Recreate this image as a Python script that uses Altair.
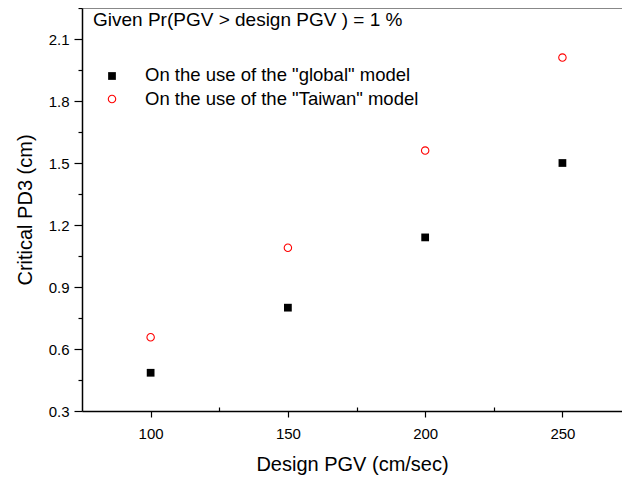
import altair as alt
import pandas as pd

pgv = [100, 150, 200, 250]
global_pd3 = [0.485, 0.80, 1.14, 1.50]
taiwan_pd3 = [0.657, 1.09, 1.56, 2.01]

x_major = [100, 150, 200, 250]
x_minor = [125, 175, 225]
y_major = [0.3, 0.6, 0.9, 1.2, 1.5, 1.8, 2.1]
y_minor = [0.45, 0.75, 1.05, 1.35, 1.65, 1.95, 2.25]

df = pd.DataFrame({
    "pgv": pgv * 2,
    "pd3": global_pd3 + taiwan_pd3,
    "model": ["global"] * 4 + ["Taiwan"] * 4,
})

FONT = "Liberation Sans"
H = 403
xscale = alt.Scale(domain=[75, 271.7], nice=False, zero=False)
yscale = alt.Scale(domain=[0.3, 2.25], nice=False, zero=False)

xaxis = alt.Axis(values=x_major, title="Design PGV (cm/sec)", grid=False,
                 orient="bottom", domainColor="black", domainWidth=1.5,
                 tickColor="black", tickSize=6, tickWidth=1.2,
                 labelFont=FONT, labelFontSize=15, labelColor="black",
                 labelPadding=9, titleFont=FONT, titleFontSize=20,
                 titleFontWeight="normal", titleColor="black", titlePadding=13)
yaxis = alt.Axis(values=y_major, title="Critical PD3 (cm)", grid=False,
                 orient="left", format=".1f", domainColor="black", domainWidth=1.5,
                 tickColor="black", tickSize=8, tickWidth=1.2,
                 labelFont=FONT, labelFontSize=15, labelColor="black",
                 labelPadding=5, titleFont=FONT, titleFontSize=20,
                 titleFontWeight="normal", titleColor="black", titlePadding=13)

g = df[df.model == "global"]
t = df[df.model == "Taiwan"]

glob = alt.Chart(g).mark_square(size=60, color="black", opacity=1).encode(
    x=alt.X("pgv:Q", scale=xscale, axis=xaxis),
    y=alt.Y("pd3:Q", scale=yscale, axis=yaxis),
)

taiw = alt.Chart(t).mark_point(shape="circle", size=55, color="red",
                               strokeWidth=1.1, filled=False, opacity=1).encode(
    x=alt.X("pgv:Q", scale=xscale),
    y=alt.Y("pd3:Q", scale=yscale),
)

minor_df = pd.DataFrame({"xm": x_minor + [None] * (len(y_minor) - len(x_minor)),
                         "ym": y_minor})
minor = alt.Chart(minor_df).mark_point(opacity=0).encode(
    x=alt.X("xm:Q", scale=xscale,
            axis=alt.Axis(values=x_minor, orient="top", offset=-H, labels=False, title=None,
                          domain=False, grid=False, tickSize=4, tickColor="black",
                          tickWidth=1.2)),
    y=alt.Y("ym:Q", scale=yscale,
            axis=alt.Axis(values=y_minor, orient="left", labels=False, title=None,
                          domain=False, grid=False, tickSize=4, tickColor="black",
                          tickWidth=1.2)),
)

title_txt = alt.Chart(pd.DataFrame({"t": ["Given Pr(PGV > design PGV ) = 1 %"]})).mark_text(
    align="left", baseline="middle", font=FONT, fontSize=19, color="black"
).encode(x=alt.value(11), y=alt.value(12), text="t:N")

leg_txt = alt.Chart(pd.DataFrame({
    "t": ['On the use of the "global" model', 'On the use of the "Taiwan" model'],
    "yy": [67, 91],
})).mark_text(align="left", baseline="middle", font=FONT, fontSize=18.5, color="black").encode(
    x=alt.value(63), y=alt.Y("yy:Q", scale=None), text="t:N")

leg_sq = alt.Chart(pd.DataFrame({"a": [1]})).mark_square(size=60, color="black", opacity=1).encode(
    x=alt.value(30), y=alt.value(68))
leg_ci = alt.Chart(pd.DataFrame({"a": [1]})).mark_point(shape="circle", size=55, color="red",
                                                        strokeWidth=1.1, filled=False, opacity=1).encode(
    x=alt.value(30), y=alt.value(91))

chart = alt.layer(glob, taiw, minor, title_txt, leg_txt, leg_sq, leg_ci).resolve_axis(
    x="independent", y="independent"
).properties(
    width=540, height=H,
    autosize=alt.AutoSizeParams(type="none"),
    padding={"left": 74, "top": 0, "right": 0, "bottom": 70},
).configure_view(stroke=None).configure(background="white")

chart.save("out.html", embed_options={"renderer": "svg", "actions": False})
